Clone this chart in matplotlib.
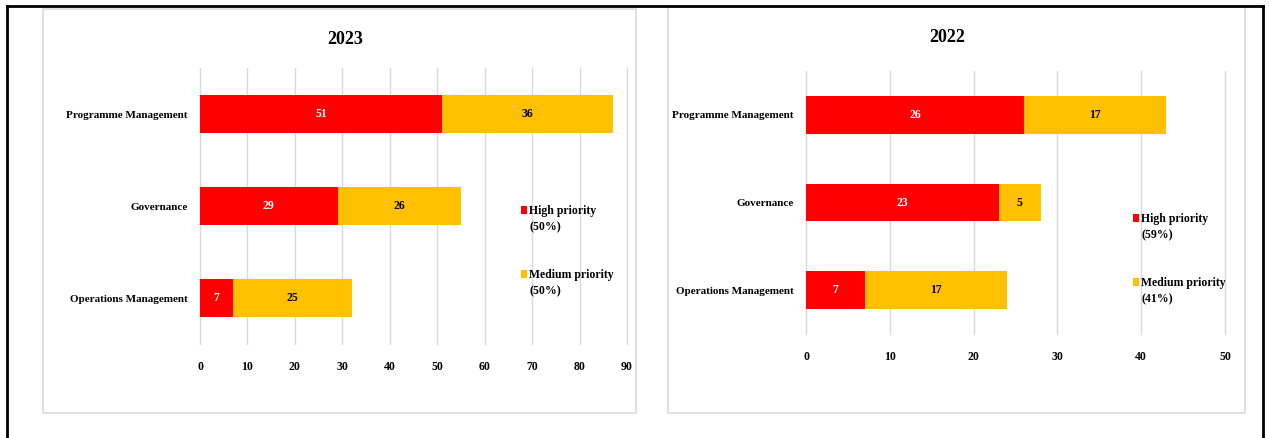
import matplotlib.pyplot as plt
from matplotlib.patches import Rectangle
from matplotlib.lines import Line2D

W, H = 1269, 438

categories = ["Programme Management", "Governance", "Operations Management"]
high_2023 = [51, 29, 7]
medium_2023 = [36, 26, 25]
high_2022 = [26, 23, 7]
medium_2022 = [17, 5, 17]
legend_2023 = ["High priority\n(50%)", "Medium priority\n(50%)"]
legend_2022 = ["High priority\n(59%)", "Medium priority\n(41%)"]

RED = "#FF0000"
YELLOW = "#FFC000"
GRID = "#D9D9D9"
plt.rcParams["font.family"] = ["Liberation Serif", "DejaVu Serif"]
plt.rcParams["font.weight"] = "bold"


def fx(x):
    return x / W


def fy(y):
    return 1 - y / H


fig = plt.figure(figsize=(W / 100, H / 100), dpi=100)

# outer black frame (open at the bottom)
fig.add_artist(Line2D([fx(7), fx(7)], [fy(438), fy(6)], color="black", lw=2))
fig.add_artist(Line2D([fx(7), fx(1263)], [fy(6), fy(6)], color="black", lw=2))
fig.add_artist(Line2D([fx(1263), fx(1263)], [fy(6), fy(438)], color="black", lw=2))

# panel boxes
for x0, x1, y0 in [(43, 636, 9), (668, 1245, 7)]:
    fig.add_artist(Rectangle((fx(x0), fy(413)), fx(x1 - x0), (413 - y0) / H,
                             fill=False, edgecolor=GRID, lw=1.2))


def panel(rect, high, medium, xmax, title, title_xy, legend, leg_xy, bh):
    l, t, r, b = rect
    ax = fig.add_axes([fx(l), fy(b), fx(r - l), (b - t) / H])
    y = list(range(len(categories)))
    bars1 = ax.barh(y, high, height=bh, color=RED, zorder=3)
    bars2 = ax.barh(y, medium, left=high, height=bh, color=YELLOW, zorder=3)
    ax.bar_label(bars1, label_type="center", color="white", fontsize=8.5, fontweight="bold")
    ax.bar_label(bars2, label_type="center", color="black", fontsize=8.5, fontweight="bold")
    ax.set_xlim(0, xmax)
    ax.set_ylim(len(categories) - 0.5, -0.5)
    ax.set_xticks(range(0, xmax + 1, 10))
    ax.set_yticks(y)
    ax.set_yticklabels(categories, fontsize=8, fontweight="bold")
    ax.tick_params(axis="x", length=0, pad=12, labelsize=8.5)
    ax.tick_params(axis="y", length=0, pad=9)
    ax.xaxis.grid(True, color=GRID, lw=1, zorder=0)
    for gl in ax.get_xgridlines():
        gl.set_clip_on(False)
    ax.set_axisbelow(True)
    for s in ax.spines.values():
        s.set_visible(False)
    fig.text(fx(title_xy[0]), fy(title_xy[1]), title, ha="center", va="center",
             fontsize=13, fontweight="bold")
    lx, ly = leg_xy
    for i, (lab, col) in enumerate(zip(legend, [RED, YELLOW])):
        yy = ly + i * 64
        fig.add_artist(Rectangle((fx(lx), fy(yy + 4)), fx(6), 8 / H, color=col, lw=0))
        fig.text(fx(lx + 8), fy(yy - 5), lab, ha="left", va="top", fontsize=8.5,
                 fontweight="bold", linespacing=1.45)
    return ax


panel((200, 68, 627, 344), high_2023, medium_2023, 90, "2023", (345, 40),
      legend_2023, (521, 210), 0.42)
panel((806, 71, 1225, 334), high_2022, medium_2022, 50, "2022", (947, 37),
      legend_2022, (1133, 218), 0.43)

fig.savefig("out.png", dpi=100)
